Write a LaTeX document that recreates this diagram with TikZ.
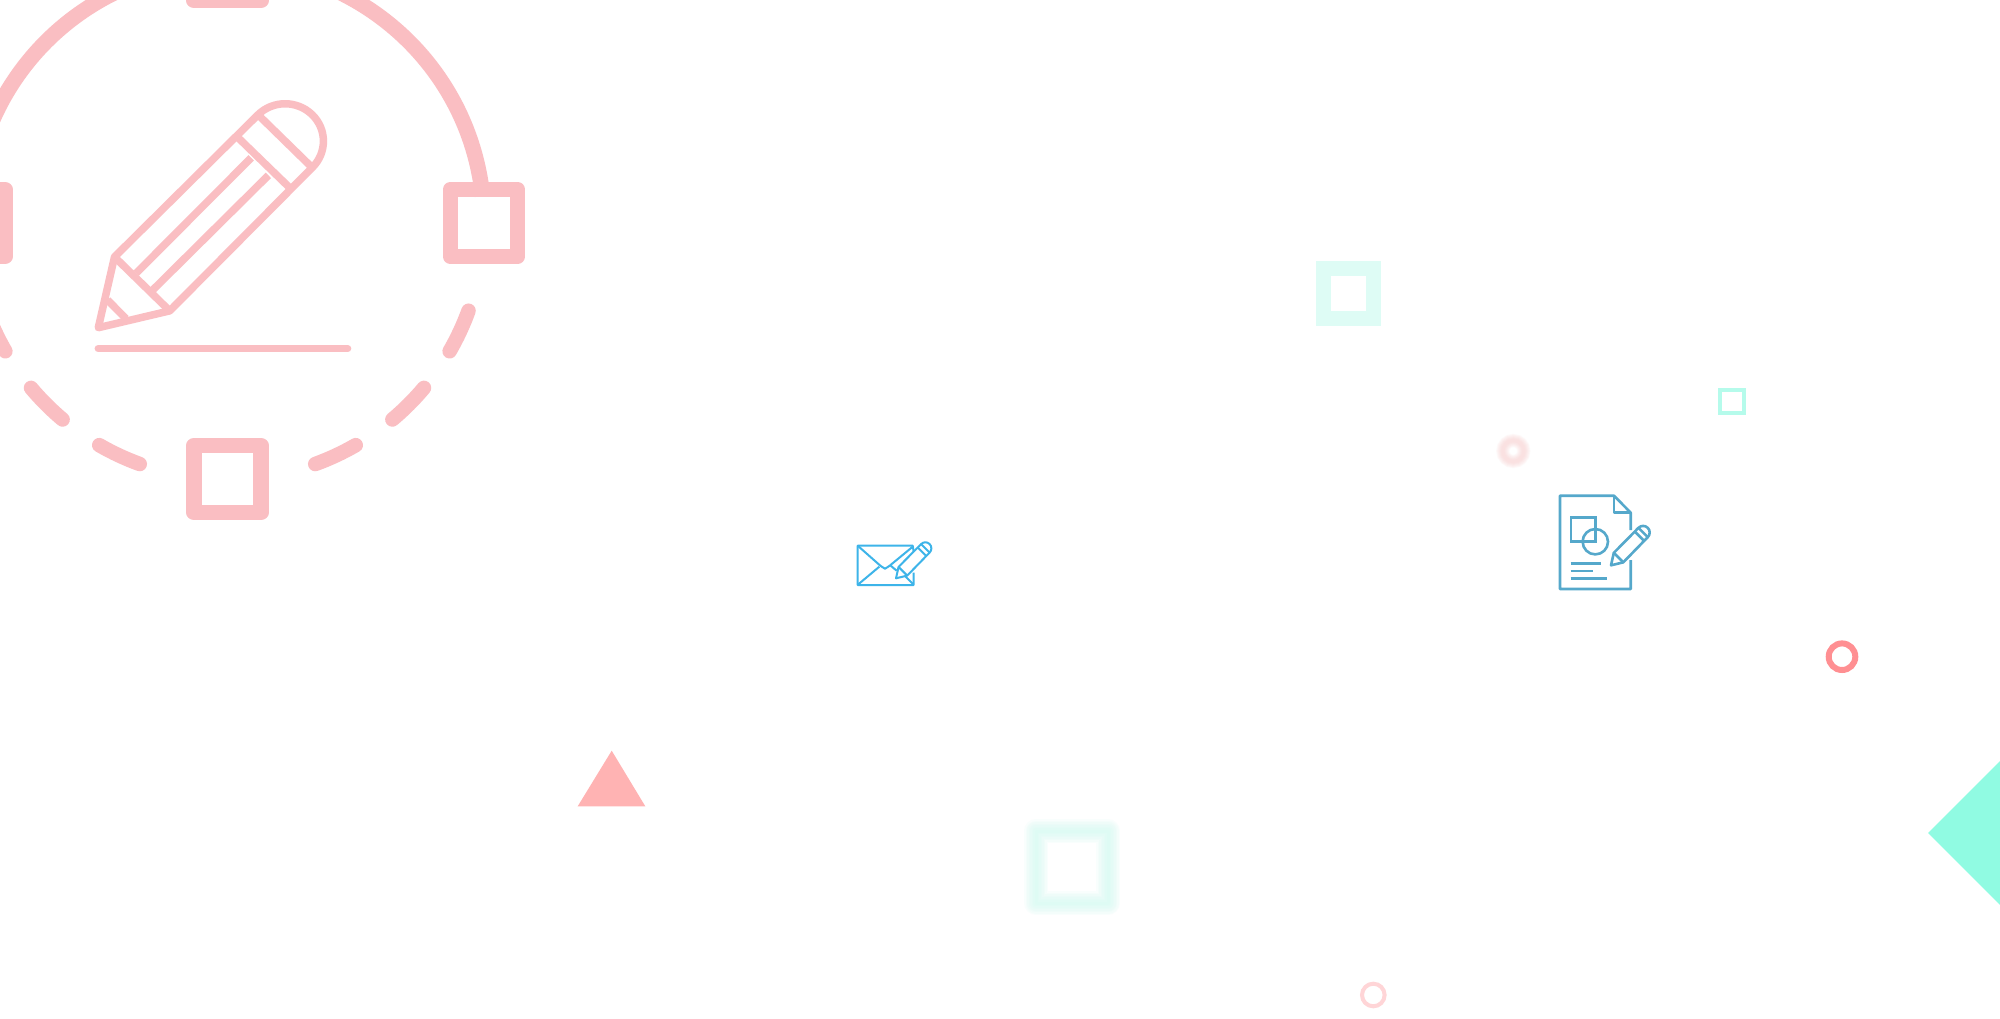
\documentclass[tikz,border=0pt]{standalone}
\usepackage{tikz}
\usepackage{xcolor}

\definecolor{pinkline}{RGB}{250,190,194}
\definecolor{mintpale}{RGB}{222,252,245}
\definecolor{mintmid}{RGB}{181,251,235}
\definecolor{mintsoft}{RGB}{205,251,240}
\definecolor{mintfull}{RGB}{144,251,226}
\definecolor{rosesoft}{RGB}{250,205,205}
\definecolor{rosering}{RGB}{255,143,146}
\definecolor{rosepale}{RGB}{255,213,215}
\definecolor{rosetri}{RGB}{255,179,179}
\definecolor{mailblue}{RGB}{61,180,233}
\definecolor{docblue}{RGB}{85,168,203}

\tikzset{
  holebox/.style={draw, fill=none, inner sep=0pt, minimum size=67pt, line width=15.5pt, line join=round},
  thinbox/.style={draw, fill=none, inner sep=0pt},
  thinring/.style={draw, circle, fill=none, inner sep=0pt},
  pencilicon/.pic={
    \draw[line join=round] (0,0) -- (47,-210) -- (463,-632)
      arc[start angle=-135, end angle=45, radius=111]
      -- (207,-50) -- cycle;
    \draw (47,-210) -- (207,-50);
    \draw (463,-632) -- (620,-475);
    \draw (405,-564) -- (553,-417);
  },
  pencilbody/.pic={
    \draw (110,-162) -- (443,-504);
    \draw (158,-112) -- (493,-452);
    \draw (27,-82) -- (80,-27);
  }
}

\begin{document}
\begin{tikzpicture}[x=1pt, y=-1pt]
\useasboundingbox (0,0) rectangle (2000,1018);
\fill[white] (0,0) rectangle (2000,1018);
\clip (0,0) rectangle (2000,1018);

% Big ring (left)
\coordinate (cc) at (227.5,223);
\draw[pinkline, line width=15.5pt] (cc) ++(-6:256.5) arc[start angle=-6, end angle=-174, radius=256.5];
\foreach \a in {20,40,60,110,130,150}
  \draw[pinkline, line width=14.5pt, line cap=round] (cc) ++(\a:256.5) arc[start angle=\a, delta angle=10, radius=256.5];

\node[holebox, draw=pinkline] (sqr) at (484,223) {};
\node[holebox, draw=pinkline] (sqb) at (227.5,479) {};
\node[holebox, draw=pinkline] (sql) at (-28.5,223) {};
\node[holebox, draw=pinkline] (sqt) at (227.5,-33) {};

\pic[pinkline, xscale=0.345, yscale=0.337, line width=7.5pt] (bigpen) at (98.3,327.7) {pencilicon};
\pic[pinkline, xscale=0.345, yscale=0.337, line width=7.5pt] (bigbody) at (98.3,327.7) {pencilbody};
\draw[pinkline, line width=7.5pt, line cap=round] (98.3,348.6) -- (347.6,348.6);

% Envelope
\draw[mailblue, line width=2pt, line join=round] (913.7,551.7) -- (912.7,545.7) -- (857.7,545.7) -- (857.7,585) -- (913.7,585) -- (913.7,572.7);
\draw[mailblue, line width=2pt, line join=round] (857.7,545.7) -- (880.7,566) -- (885,568.7) -- (889.3,566) -- (912.7,546.7);
\draw[mailblue, line width=2pt] (858.3,584.3) -- (879.3,566.7);
\draw[mailblue, line width=2pt] (890.7,565.7) -- (896.7,570.7);
\draw[mailblue, line width=2pt] (905,576) -- (913.3,584.3);
\pic[mailblue, scale=0.0542, line width=2pt] (mailpen) at (896,578.3) {pencilicon};

% Document
\draw[docblue, line width=2.6pt, line join=round] (1630.7,530) -- (1630.7,512.7) -- (1614,495.7) -- (1560,495.7) -- (1560,589) -- (1630.7,589) -- (1630.7,560);
\draw[docblue, line width=2.6pt, line join=round] (1614,495.7) -- (1614,512.7) -- (1630.7,512.7);
\node[thinbox, draw=docblue, line width=2.6pt, minimum size=24.5pt] (docsq) at (1583.3,529.5) {};
\node[thinring, draw=docblue, line width=2.6pt, minimum size=25.4pt] (doccirc) at (1595.3,541.7) {};
\draw[docblue, line width=2.6pt] (1570.7,563.7) -- (1601,563.7);
\draw[docblue, line width=2.6pt] (1570.7,571) -- (1593.3,571);
\draw[docblue, line width=2.6pt] (1570.7,578.7) -- (1606.7,578.7);
\pic[docblue, scale=0.0593, line width=2.6pt] (docpen) at (1611,565.3) {pencilicon};

% Small shapes
\node[thinbox, draw=mintpale, line width=15pt, minimum size=50pt] (sqmint) at (1348.3,293.3) {};
\node[thinbox, draw=mintmid, line width=4pt, minimum size=23.5pt] (sqsmall) at (1732.2,401.7) {};
\node[thinring, draw=rosering, line width=6pt, minimum size=26.6pt] (ringred) at (1842,656.7) {};
\node[thinring, draw=rosepale, line width=4pt, minimum size=22.6pt] (ringlow) at (1373.3,995) {};

% Soft edged ones
\foreach \w in {24,21,18,15,12,9,6,3}
  \node[thinbox, draw=mintsoft, opacity=0.11, line width=\w pt, minimum size=72pt, line join=round] at (1072,867) {};
\foreach \w in {13,11,9,7,5,3}
  \node[thinring, draw=rosesoft, opacity=0.13, line width=\w pt, minimum size=21pt] at (1513.3,451) {};

\fill[rosetri] (611.7,750.7) -- (645.3,806.3) -- (577.7,806.3) -- cycle;
\fill[mintfull] (2000,761) -- (1928,833) -- (2000,905) -- cycle;
\end{tikzpicture}
\end{document}
